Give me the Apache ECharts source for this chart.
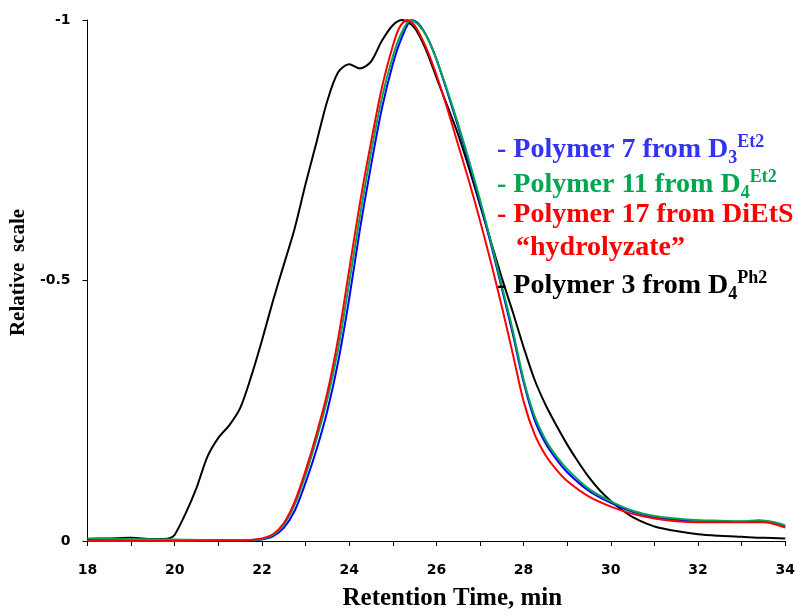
<!DOCTYPE html>
<html>
<head>
<meta charset="utf-8">
<script src="https://cdn.jsdelivr.net/npm/echarts@6/dist/echarts.min.js"></script>
<style>
  html, body { margin: 0; padding: 0; background: #ffffff; }
  #chart { width: 798px; height: 616px; }
</style>
</head>
<body>
<div id="chart"></div>
<script>
// GPC traces: retention time (min) vs. relative detector response (negative scale)

const xMin = 18, xMax = 34, xStep = 1;
const yTickValues = [-1, -0.5, 0];

// Polymer 3 from D4(Ph2) — black
const p3Time = [18, 18.5, 19, 19.5, 19.75, 19.9, 20, 20.25, 20.5, 20.75, 21, 21.25, 21.5, 21.75, 22, 22.25, 22.5, 22.75,
  23, 23.25, 23.5, 23.75, 24, 24.25, 24.5, 24.75, 25, 25.22, 25.5, 25.75, 26, 26.25, 26.5, 26.75, 27, 27.25, 27.5, 27.75,
  28, 28.25, 28.5, 28.75, 29, 29.25, 29.5, 29.75, 30, 30.25, 30.5, 30.75, 31, 31.5, 32, 32.5, 33, 33.5, 34];
const p3Value = [-0.004, -0.005, -0.006, -0.004, -0.004, -0.006, -0.012, -0.053, -0.102, -0.162, -0.198, -0.222, -0.255, -0.315, -0.385, -0.46, -0.53, -0.6,
  -0.685, -0.765, -0.845, -0.9, -0.915, -0.907, -0.92, -0.96, -0.99, -1.0, -0.985, -0.945, -0.89, -0.835, -0.78, -0.715, -0.645, -0.575, -0.505, -0.44,
  -0.372, -0.31, -0.262, -0.222, -0.185, -0.152, -0.122, -0.097, -0.077, -0.06, -0.046, -0.036, -0.028, -0.019, -0.013, -0.01, -0.008, -0.006, -0.005];

// Polymer 7 from D3(Et2) — blue
const p7Time = [18, 19, 20, 21, 21.5, 21.75, 22, 22.25, 22.5, 22.75, 23, 23.25, 23.5, 23.75, 24, 24.25, 24.5, 24.75, 25, 25.2, 25.44,
  25.6, 25.8, 26, 26.25, 26.5, 26.75, 27, 27.25, 27.5, 27.75, 28, 28.25, 28.5, 28.75, 29, 29.5, 30, 30.5, 31, 31.5, 32, 32.5, 33, 33.4, 33.7, 34];
const p7Value = [-0.002, -0.002, -0.002, -0.001, -0.001, -0.002, -0.003, -0.009, -0.025, -0.058, -0.112, -0.175, -0.25, -0.345, -0.465, -0.6, -0.72, -0.83, -0.915, -0.965, -1.0,
  -0.992, -0.965, -0.925, -0.862, -0.795, -0.725, -0.65, -0.57, -0.485, -0.398, -0.305, -0.233, -0.188, -0.157, -0.132, -0.096, -0.073, -0.056, -0.046, -0.041, -0.039, -0.038, -0.037, -0.039, -0.036, -0.028];

// Polymer 11 from D4(Et2) — green
const p11Time = [18, 19, 20, 21, 21.5, 21.75, 22, 22.25, 22.5, 22.75, 23, 23.25, 23.5, 23.75, 24, 24.25, 24.5, 24.75, 25, 25.2, 25.41,
  25.6, 25.8, 26, 26.25, 26.5, 26.75, 27, 27.25, 27.5, 27.75, 28, 28.25, 28.5, 28.75, 29, 29.5, 30, 30.5, 31, 31.5, 32, 32.5, 33, 33.4, 33.7, 34];
const p11Value = [-0.005, -0.004, -0.003, -0.002, -0.002, -0.002, -0.004, -0.011, -0.031, -0.07, -0.127, -0.195, -0.272, -0.37, -0.495, -0.625, -0.745, -0.85, -0.93, -0.975, -1.0,
  -0.99, -0.965, -0.925, -0.865, -0.8, -0.73, -0.655, -0.575, -0.49, -0.405, -0.31, -0.24, -0.195, -0.163, -0.138, -0.1, -0.076, -0.058, -0.048, -0.043, -0.04, -0.039, -0.038, -0.04, -0.037, -0.03];

// Polymer 17 from DiEtS "hydrolyzate" — red
const p17Time = [18, 19, 20, 21, 21.5, 21.75, 22, 22.25, 22.5, 22.75, 23, 23.25, 23.5, 23.75, 24, 24.25, 24.5, 24.75, 25, 25.15, 25.33,
  25.5, 25.75, 26, 26.25, 26.5, 26.75, 27, 27.25, 27.5, 27.75, 28, 28.25, 28.5, 28.75, 29, 29.5, 30, 30.5, 31, 31.5, 32, 32.5, 33, 33.5, 34];
const p17Value = [0, 0, 0, -0.001, -0.001, -0.002, -0.005, -0.013, -0.034, -0.075, -0.135, -0.205, -0.285, -0.39, -0.52, -0.65, -0.765, -0.87, -0.95, -0.985, -1.0,
  -0.99, -0.95, -0.895, -0.83, -0.76, -0.69, -0.615, -0.535, -0.45, -0.36, -0.268, -0.205, -0.165, -0.137, -0.115, -0.085, -0.066, -0.052, -0.043, -0.038, -0.036, -0.036, -0.036, -0.036, -0.026];

const pairs = (xs, ys) => xs.map((x, i) => [x, ys[i]]);

const lineSeries = (name, color, xs, ys) => ({
  name: name,
  type: 'line',
  data: pairs(xs, ys),
  smooth: 0.3,
  showSymbol: false,
  symbol: 'none',
  silent: true,
  lineStyle: { color: color, width: 2 },
  z: 2
});

const serif = '"Liberation Serif", "Times New Roman", serif';
const tickFont = { fontFamily: '"DejaVu Sans", Verdana, sans-serif', fontWeight: 'bold', fontSize: 14, color: '#000' };

function legendLine(left, top, color, main, sub, sup) {
  let text = '{m|' + main + '}';
  if (sub) text += '{sub|' + sub + '}';
  if (sup) text += '{sup|' + sup + '}';
  const base = { fontFamily: serif, fontWeight: 'bold', fill: color };
  return {
    type: 'text',
    left: left,
    top: top,
    style: {
      text: text,
      rich: {
        m: Object.assign({ fontSize: 28, lineHeight: 34 }, base),
        sub: Object.assign({ fontSize: 18, lineHeight: 16, verticalAlign: 'bottom' }, base),
        sup: Object.assign({ fontSize: 18, lineHeight: 16, verticalAlign: 'top' }, base)
      }
    },
    z: 10
  };
}

const chart = echarts.init(document.getElementById('chart'), null, { renderer: 'canvas' });

chart.setOption({
  animation: false,
  backgroundColor: '#ffffff',
  grid: { left: 85, right: 11, top: 20, bottom: 69, containLabel: false },
  xAxis: {
    type: 'value',
    min: xMin,
    max: xMax,
    interval: xStep,
    name: 'Retention Time, min',
    nameLocation: 'middle',
    nameGap: 45,
    nameTextStyle: { fontFamily: serif, fontWeight: 'bold', fontSize: 25, color: '#000', padding: [0, 0, 0, 32] },
    axisLine: { show: true, onZero: false, lineStyle: { color: '#000', width: 1 } },
    axisTick: { show: true, length: 5, inside: false, lineStyle: { color: '#000', width: 1 } },
    splitLine: { show: false },
    axisLabel: Object.assign({
      margin: 22,
      formatter: v => (v % 2 === 0 ? String(v) : '')
    }, tickFont)
  },
  yAxis: {
    type: 'value',
    min: -1,
    max: 0,
    interval: 0.5,
    inverse: true,
    name: 'Relative  scale',
    nameLocation: 'middle',
    nameRotate: 90,
    nameGap: 50,
    nameTextStyle: { fontFamily: serif, fontWeight: 'bold', fontSize: 21, color: '#000', padding: [0, 0, 0, 16] },
    axisLine: { show: true, onZero: false, lineStyle: { color: '#000', width: 1 } },
    axisTick: { show: true, length: 5, inside: false, lineStyle: { color: '#000', width: 1 } },
    splitLine: { show: false },
    axisLabel: Object.assign({
      margin: 17,
      formatter: v => (yTickValues.indexOf(v) >= 0 ? String(v) : '')
    }, tickFont)
  },
  series: [
    lineSeries('Polymer 3 from D4Ph2', '#000000', p3Time, p3Value),
    lineSeries('Polymer 7 from D3Et2', '#0000ff', p7Time, p7Value),
    lineSeries('Polymer 11 from D4Et2', '#00a650', p11Time, p11Value),
    lineSeries('Polymer 17 from DiEtS', '#ff0000', p17Time, p17Value)
  ],
  graphic: [
    legendLine(497, 133, '#3333f5', '- Polymer 7 from D', '3', 'Et2'),
    legendLine(497, 168, '#00a650', '- Polymer 11 from D', '4', 'Et2'),
    legendLine(497, 201, '#ff0000', '- Polymer 17 from DiEtS'),
    legendLine(516, 234, '#ff0000', '\u201chydrolyzate\u201d'),
    legendLine(497, 269, '#000000', '- Polymer 3 from D', '4', 'Ph2')
  ]
});
</script>
</body>
</html>
